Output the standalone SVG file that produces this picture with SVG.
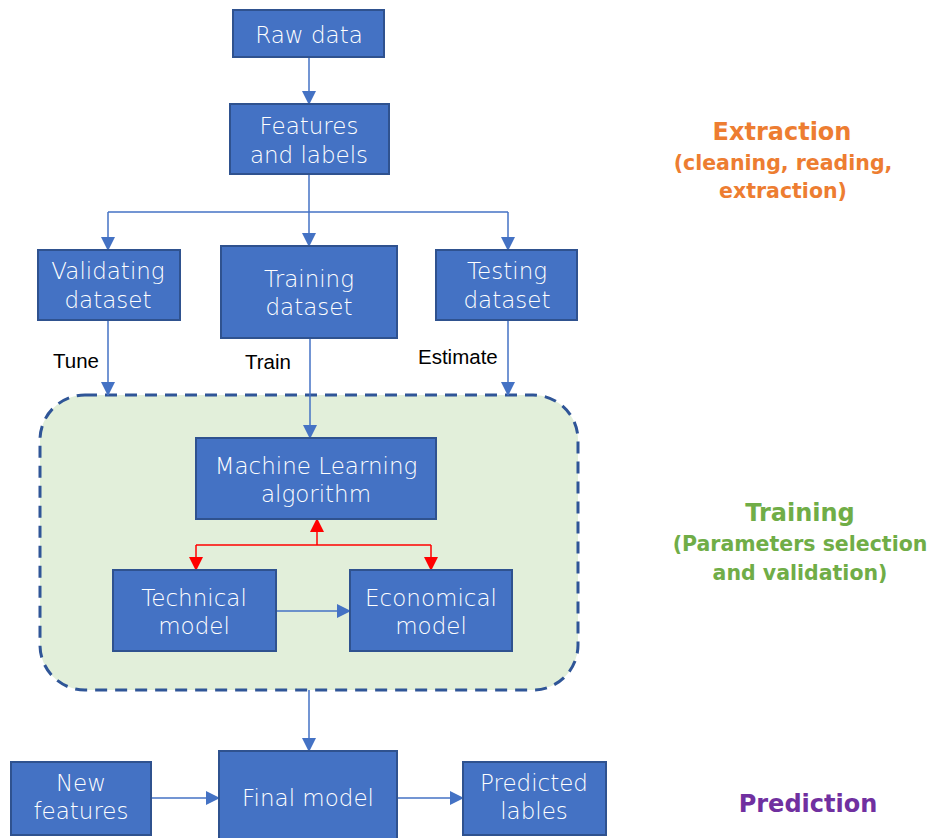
<svg xmlns="http://www.w3.org/2000/svg" width="930" height="838" viewBox="0 0 930 838">
<defs>
<marker id="ab" markerUnits="userSpaceOnUse" markerWidth="14" markerHeight="14" viewBox="0 0 14 14" refX="13" refY="7" orient="auto"><path d="M0,0 L14,7 L0,14 Z" fill="#4472c4"/></marker>
<marker id="ar" markerUnits="userSpaceOnUse" markerWidth="14" markerHeight="14" viewBox="0 0 14 14" refX="13" refY="7" orient="auto"><path d="M0,0 L14,7 L0,14 Z" fill="#ff0000"/></marker>
<style>
.box{fill:#4472c4;stroke:#2f528f;stroke-width:2}
.bt{font-family:"DejaVu Sans","Liberation Sans",sans-serif;font-weight:200;font-size:23px;fill:#ffffff;text-anchor:middle}
.ln{fill:none;stroke:#4472c4;stroke-width:1.5}
.rl{fill:none;stroke:#ff0000;stroke-width:1.5}
.lb{font-family:"Liberation Sans",Arial,sans-serif;font-size:20.5px;fill:#000}
.h{font-family:"DejaVu Sans","Liberation Sans",sans-serif;font-weight:bold;text-anchor:middle}
</style>
</defs>
<rect x="40" y="395" width="538" height="295" rx="45" ry="45" fill="#e2efda" stroke="#2f5597" stroke-width="3" stroke-dasharray="12,8"/>
<g id="connectors">
<path class="ln" d="M309,57 V104" marker-end="url(#ab)"/>
<path class="ln" d="M309,174 V246" marker-end="url(#ab)"/>
<path class="ln" d="M108,212 H508"/>
<path class="ln" d="M108,212 V250" marker-end="url(#ab)"/>
<path class="ln" d="M508,212 V250" marker-end="url(#ab)"/>
<path class="ln" d="M108,320 V395" marker-end="url(#ab)"/>
<path class="ln" d="M508,320 V395" marker-end="url(#ab)"/>
<path class="ln" d="M310,338 V438" marker-end="url(#ab)"/>
<path class="rl" d="M317,545 V519" marker-end="url(#ar)"/>
<path class="rl" d="M196,545 H431"/>
<path class="rl" d="M196,545 V570" marker-end="url(#ar)"/>
<path class="rl" d="M431,545 V570" marker-end="url(#ar)"/>
<path class="ln" d="M276,611 H350" marker-end="url(#ab)"/>
<path class="ln" d="M309,690 V751" marker-end="url(#ab)"/>
<path class="ln" d="M151,798 H219" marker-end="url(#ab)"/>
<path class="ln" d="M397,798 H463" marker-end="url(#ab)"/>
</g>
<g id="raw"><rect class="box" x="233" y="10" width="151" height="47"/><text class="bt" x="309" y="43">Raw data</text></g>
<g id="features"><rect class="box" x="230" y="104" width="159" height="70"/><text class="bt" x="309" y="134">Features</text><text class="bt" x="309" y="163">and labels</text></g>
<g id="validating"><rect class="box" x="38" y="250" width="142" height="70"/><text class="bt" x="108" y="279">Validating</text><text class="bt" x="108" y="308">dataset</text></g>
<g id="training"><rect class="box" x="221" y="246" width="176" height="92"/><text class="bt" x="309" y="287">Training</text><text class="bt" x="309" y="315">dataset</text></g>
<g id="testing"><rect class="box" x="436" y="250" width="141" height="70"/><text class="bt" x="507" y="279">Testing</text><text class="bt" x="507" y="308">dataset</text></g>
<text class="lb" x="53" y="368">Tune</text>
<text class="lb" x="245" y="369">Train</text>
<text class="lb" x="418" y="364">Estimate</text>
<g id="ml"><rect class="box" x="196" y="438" width="240" height="81"/><text class="bt" x="316" y="474">Machine Learning</text><text class="bt" x="316" y="502">algorithm</text></g>
<g id="technical"><rect class="box" x="113" y="570" width="163" height="81"/><text class="bt" x="194" y="606">Technical</text><text class="bt" x="194" y="634">model</text></g>
<g id="economical"><rect class="box" x="350" y="570" width="162" height="81"/><text class="bt" x="431" y="606">Economical</text><text class="bt" x="431" y="634">model</text></g>
<g id="newfeat"><rect class="box" x="11" y="762" width="140" height="73"/><text class="bt" x="81" y="791">New</text><text class="bt" x="81" y="819">features</text></g>
<g id="final"><rect class="box" x="219" y="751" width="178" height="90"/><text class="bt" x="308" y="806">Final model</text></g>
<g id="predicted"><rect class="box" x="463" y="762" width="143" height="73"/><text class="bt" x="534" y="791">Predicted</text><text class="bt" x="534" y="819">lables</text></g>
<g id="labels">
<text class="h" x="782" y="140" font-size="24" fill="#ed7d31">Extraction</text>
<text class="h" x="783" y="170" font-size="20.5" fill="#ed7d31">(cleaning, reading,</text>
<text class="h" x="783" y="198" font-size="20.5" fill="#ed7d31">extraction)</text>
<text class="h" x="800" y="521" font-size="24" fill="#70ad47">Training</text>
<text class="h" x="800" y="551" font-size="20.5" fill="#70ad47">(Parameters selection</text>
<text class="h" x="800" y="580" font-size="20.5" fill="#70ad47">and validation)</text>
<text class="h" x="808" y="812" font-size="24" fill="#7030a0">Prediction</text>
</g>
</svg>
